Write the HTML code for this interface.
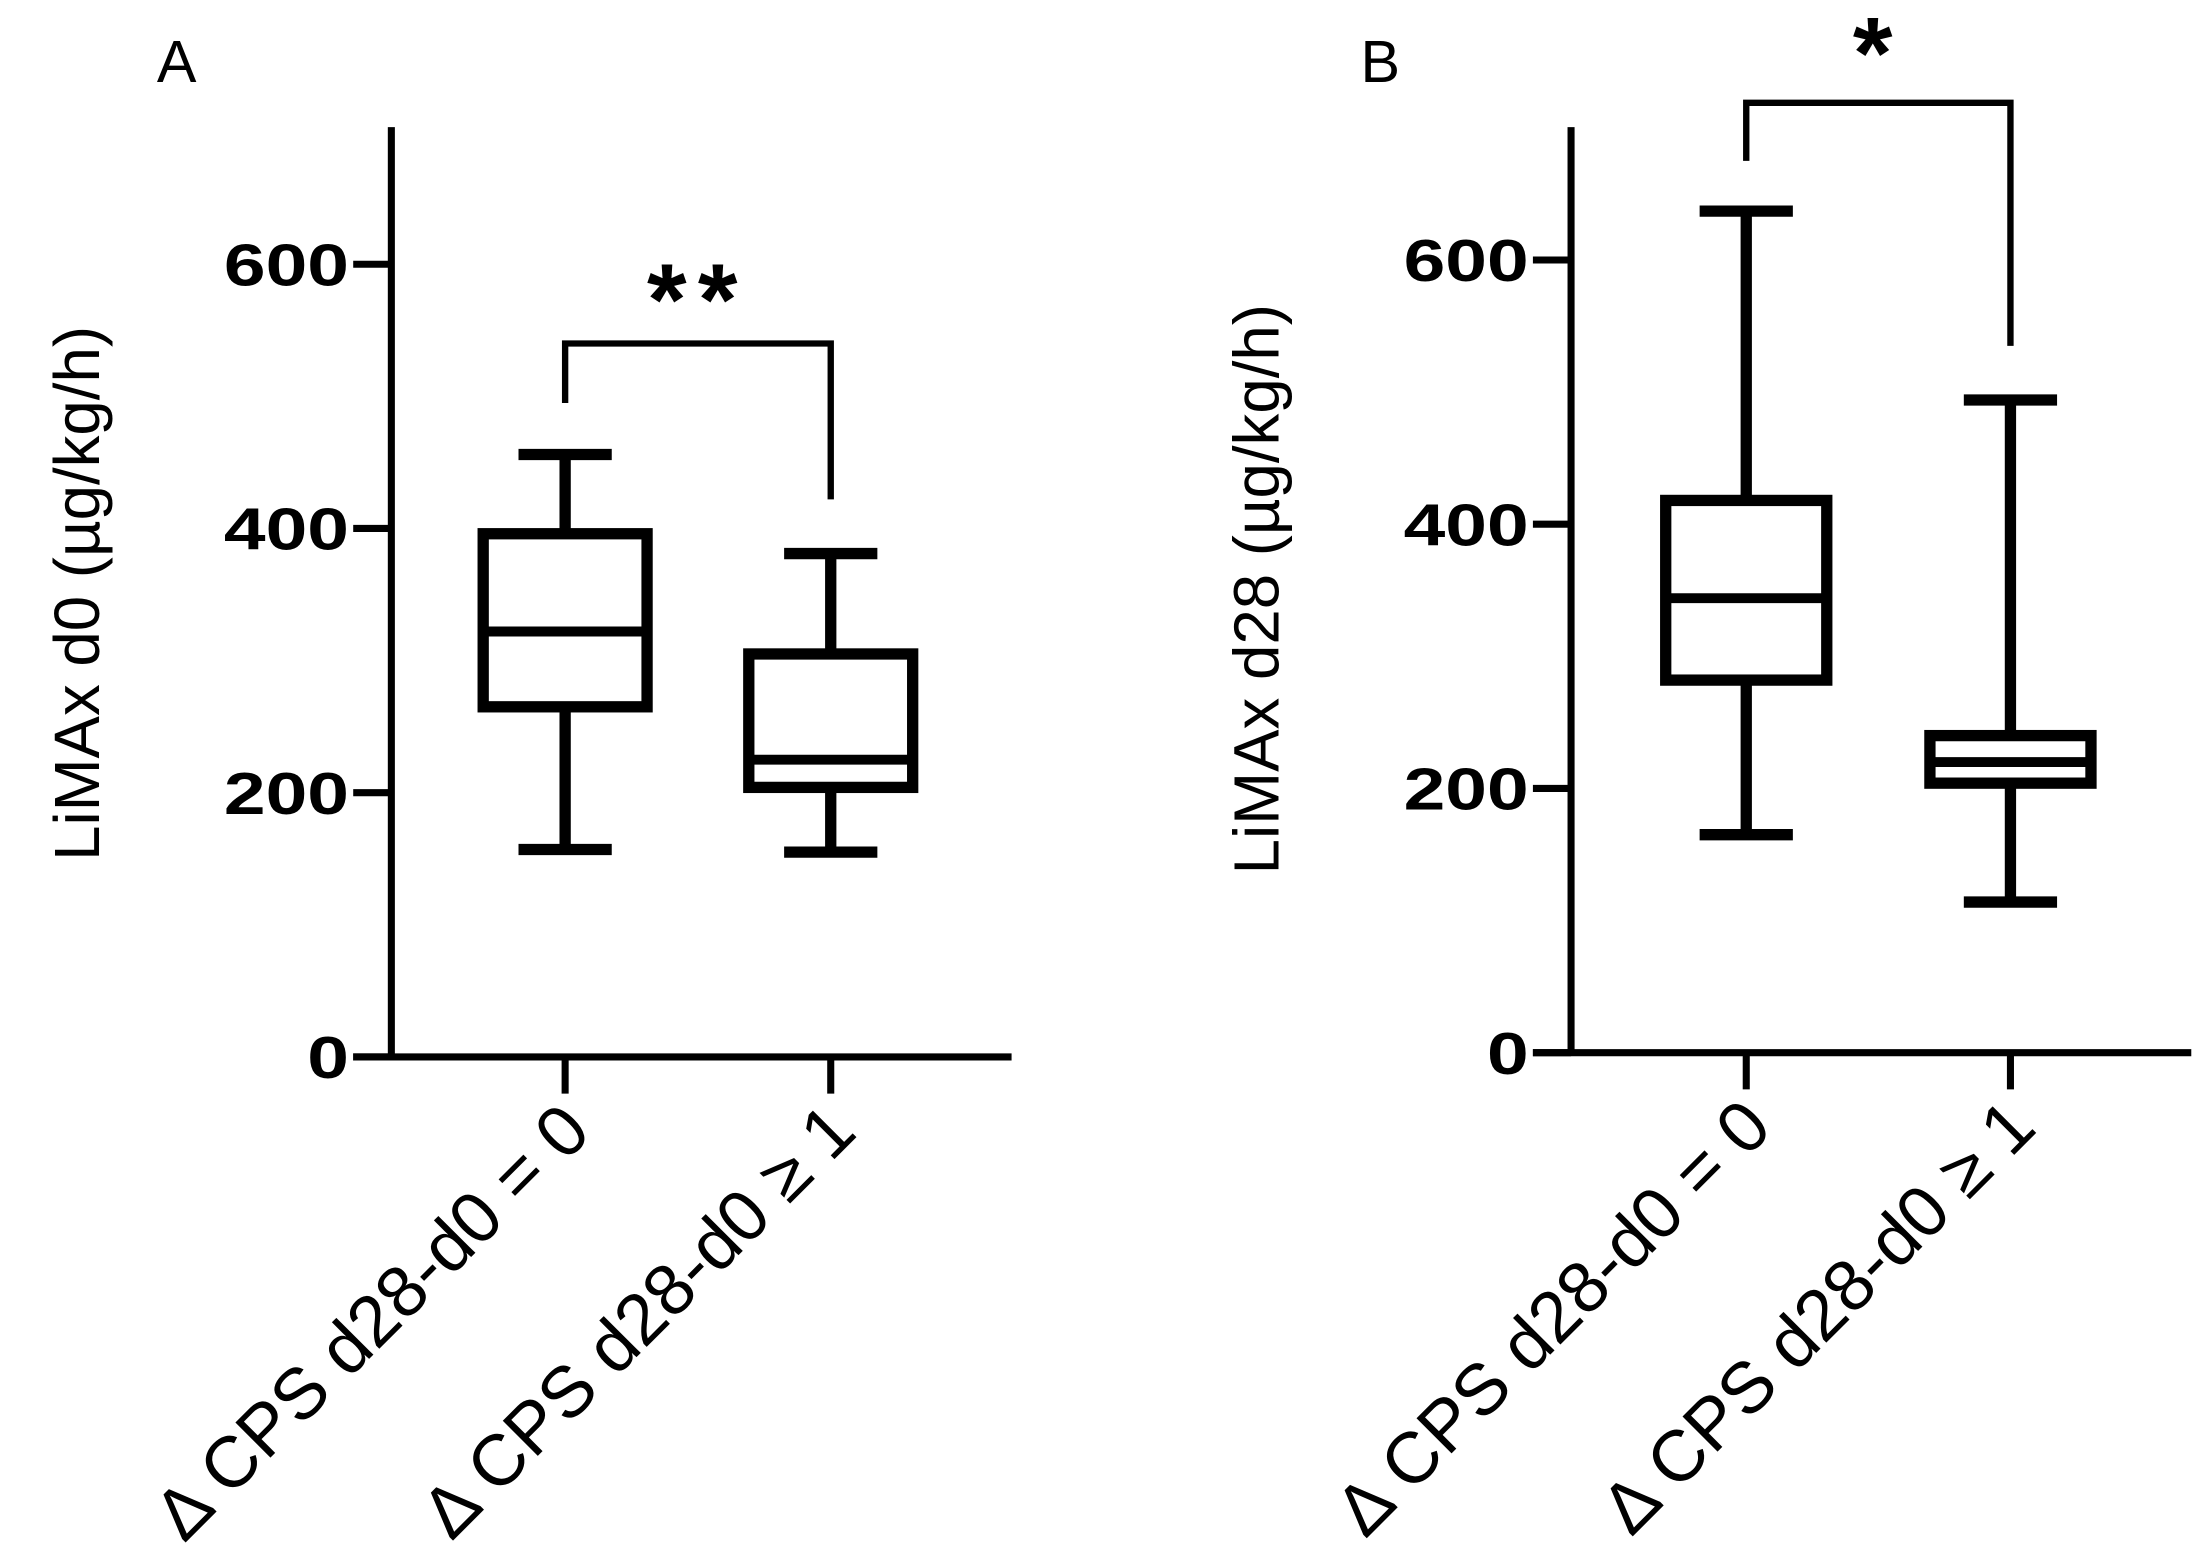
<!DOCTYPE html>
<html><head><meta charset="utf-8"><style>
html,body{margin:0;padding:0;background:#fff;}
svg{display:block;}
text{font-family:"Liberation Sans",Arial,sans-serif;fill:#000;}
</style></head><body>
<svg id="chart" width="2204" height="1567" viewBox="0 0 1560 1109" preserveAspectRatio="none" xmlns="http://www.w3.org/2000/svg"></svg>
<script>
const categories = ["Δ CPS d28-d0 = 0", "Δ CPS d28-d0 ≥ 1"];
const yTicks = [0, 200, 400, 600];
const panelALow = [157, 155];
const panelAQ1 = [265, 204];
const panelAMedian = [322, 225];
const panelAQ3 = [396, 305];
const panelAHigh = [456, 381];
const panelBLow = [165, 114];
const panelBQ1 = [282, 204];
const panelBMedian = [344, 220];
const panelBQ3 = [418, 240];
const panelBHigh = [637, 494];
const panelASig = ["**"];
const panelBSig = ["*"];

const NS = "http://www.w3.org/2000/svg";
const svg = document.getElementById("chart");
function mk(tag, attrs, parent){const e=document.createElementNS(NS,tag);for(const k in attrs)e.setAttribute(k,attrs[k]);(parent||svg).appendChild(e);return e;}

function panel(cfg){
  const g = mk("g",{});
  
  
  const y = v => cfg.y0 - v*cfg.k;
  const x = i => cfg.cx[i];
  const L = mk("text",{x:cfg.letterX,y:58,"font-size":42},g); L.textContent=cfg.letter;
  
  
  const ya = mk("line",{x1:cfg.ax,y1:90,x2:cfg.ax,y2:cfg.y0+2,stroke:"#000","stroke-width":5},g);
  
  
  const xa = mk("line",{x1:cfg.ax-27,y1:cfg.y0,x2:cfg.ax+439,y2:cfg.y0,stroke:"#000","stroke-width":5},g);
  
  
  yTicks.forEach(t=>{
    const tl = mk("line",{x1:cfg.ax-27,y1:y(t),x2:cfg.ax,y2:y(t),stroke:"#000","stroke-width":5},g);
    
    
    const s=String(t);
    const tx = mk("text",{x:cfg.ax-30,y:y(t)+15,"font-size":42,"font-weight":"bold","text-anchor":"end",textLength:s.length*29.5,lengthAdjust:"spacingAndGlyphs"},g);
    tx.textContent=s;
    
    
  });
  const yt = mk("text",{x:0,y:0,"font-size":45,"text-anchor":"middle",transform:`translate(${cfg.ax-207},${cfg.y0-328}) rotate(-90)`},g);
  yt.textContent=cfg.title;
  
  
  categories.forEach((c,i)=>{
    const tk = mk("line",{x1:x(i),y1:cfg.y0,x2:x(i),y2:cfg.y0+26,stroke:"#000","stroke-width":5},g);
    
    
    const lb = mk("text",{x:0,y:0,"font-size":51,"text-anchor":"end",transform:`translate(${x(i)+20},${cfg.y0+55}) rotate(-45)`},g);
    lb.textContent=c;
    
    
    const hw=cfg.bw/2, cw=33;
    const wh = mk("line",{x1:x(i),y1:y(cfg.high[i]),x2:x(i),y2:y(cfg.q3[i]),stroke:"#000","stroke-width":8},g);
    
    
    const wl = mk("line",{x1:x(i),y1:y(cfg.q1[i]),x2:x(i),y2:y(cfg.low[i]),stroke:"#000","stroke-width":8},g);
    
    
    const ch = mk("line",{x1:x(i)-cw,y1:y(cfg.high[i]),x2:x(i)+cw,y2:y(cfg.high[i]),stroke:"#000","stroke-width":8},g);
    
    
    const cl = mk("line",{x1:x(i)-cw,y1:y(cfg.low[i]),x2:x(i)+cw,y2:y(cfg.low[i]),stroke:"#000","stroke-width":8},g);
    
    
    const bx = mk("rect",{x:x(i)-hw,y:y(cfg.q3[i]),width:cfg.bw,height:y(cfg.q1[i])-y(cfg.q3[i]),fill:"#fff",stroke:"#000","stroke-width":8},g);
    
    
    const md = mk("line",{x1:x(i)-hw,y1:y(cfg.med[i]),x2:x(i)+hw,y2:y(cfg.med[i]),stroke:"#000","stroke-width":7},g);
    
    
  });
  const br = mk("polyline",{points:`${x(0)},${y(cfg.brL)} ${x(0)},${y(cfg.brTop)} ${x(1)},${y(cfg.brTop)} ${x(1)},${y(cfg.brR)}`,fill:"none",stroke:"#000","stroke-width":4.5},g);
  
  
  const st = mk("text",{x:(x(0)+x(1))/2,y:y(cfg.brTop)-cfg.starOff,"font-size":72,"font-weight":"bold","text-anchor":"middle","letter-spacing":8},g);
  st.textContent=cfg.sig[0];
  
  
}

panel({name:"panel-a",letter:"A",letterX:111,ax:277,y0:748,k:0.935,cx:[400,588],bw:116,title:"LiMAx d0 (µg/kg/h)",
  low:panelALow,q1:panelAQ1,med:panelAMedian,q3:panelAQ3,high:panelAHigh,brTop:540,brL:495,brR:422,sig:panelASig,starOff:6});
panel({name:"panel-b",letter:"B",letterX:963,ax:1112,y0:745,k:0.935,cx:[1236,1423],bw:114,title:"LiMAx d28 (µg/kg/h)",
  low:panelBLow,q1:panelBQ1,med:panelBMedian,q3:panelBQ3,high:panelBHigh,brTop:719,brL:675,brR:535,sig:panelBSig,starOff:10});
</script>
</body></html>
